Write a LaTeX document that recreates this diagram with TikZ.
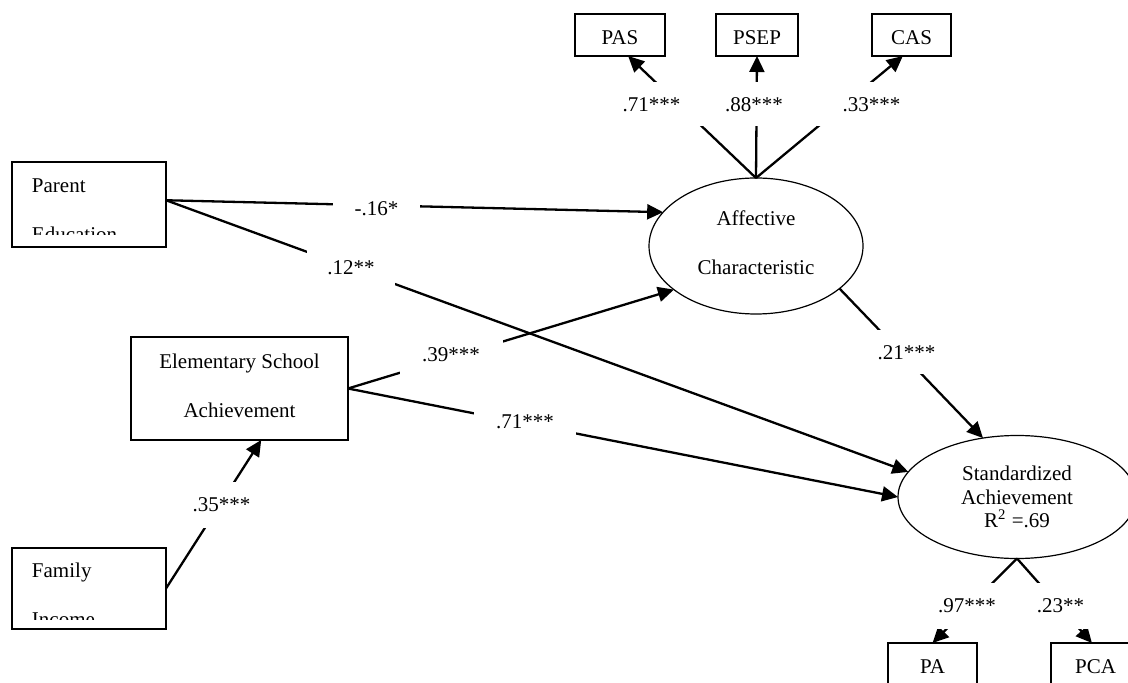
\documentclass[tikz,border=0pt]{standalone}
\usepackage{fontspec}
\setmainfont{Liberation Serif}
\usetikzlibrary{arrows.meta,shapes.geometric,calc}
\begin{document}
\begin{tikzpicture}[x=0.5pt,y=-0.5pt,
  every node/.style={font=\fontsize{10.5}{12}\selectfont, inner sep=0pt, outer sep=0pt},
  obs/.style={draw, line width=0.7pt, text height=9.7pt, text depth=0pt},
  rect/.style={draw, line width=0.7pt},
  lat/.style={draw, ellipse, line width=0.6pt, align=center},
  arr/.style={line width=1.15pt, -{Triangle[length=8pt,width=7.5pt]}},
  coef/.style={fill=white}]
\useasboundingbox (0,0) rectangle (1128,683);
\clip (0,0) rectangle (1128,683);

% indicator boxes (top)
\node[obs, minimum width=45pt, minimum height=21pt] (pas) at (620,35) {PAS};
\node[obs, minimum width=41pt, minimum height=21pt] (psep) at (757,35) {PSEP};
\node[obs, minimum width=39.5pt, minimum height=21pt] (cas) at (911.5,35) {CAS};

% Parent Education
\node[rect, minimum width=77pt, minimum height=42.5pt] (pe) at (89,204.5) {};
\node[anchor=base west] (pet) at (32,193) {Parent};
\begin{scope}
  \clip (12,162) rectangle (166,235);
  \node[anchor=base west] (pet2) at (32,242) {Education};
\end{scope}

% Elementary School Achievement
\node[rect, align=center, minimum width=108.5pt, minimum height=51.5pt] (esa) at (239.5,388.5)
  {Elementary School\\[12.5pt]Achievement\rule[-3pt]{0pt}{0pt}};

% Family Income
\node[rect, minimum width=77pt, minimum height=40.5pt] (fi) at (89,588.5) {};
\node[anchor=base west] (fit) at (32,577) {Family};
\begin{scope}
  \clip (12,548) rectangle (166,619);
  \node[anchor=base west] (fit2) at (32,626) {Income};
\end{scope}

% latent variables
\node[lat, minimum width=107pt, minimum height=68pt] (aff) at (756,246)
  {Affective\\[12.5pt]Characteristic\rule[-3.5pt]{0pt}{0pt}};
\node[lat, minimum width=119pt, minimum height=61.5pt, font=\fontsize{10.5}{11.75}\selectfont] (std) at (1017,497)
  {Standardized\\Achievement\\R\textsuperscript{2} =.69};

% indicator boxes (bottom)
\node[obs, minimum width=44.5pt, minimum height=21pt] (pa) at (932.5,664) {PA};
\node[obs, minimum width=44.5pt, minimum height=21pt] (pca) at (1095.5,664) {PCA};

% connector end points
\coordinate (peo) at ($(pe.north east)!0.45!(pe.south east)$);
\coordinate (esain) at ($(esa.south west)!0.6!(esa.south east)$);
\coordinate (pasin) at ($(pas.south west)!0.59!(pas.south east)$);
\coordinate (casin) at ($(cas.south west)!0.39!(cas.south east)$);
\coordinate (pcain) at ($(pca.north west)!0.46!(pca.north east)$);

% connectors
\draw[arr] (peo) -- (aff.160);
\draw[arr] (peo) -- (std.167);
\draw[arr] (esa.east) -- (aff.208);
\draw[arr] (esa.east) -- (std.west);
\draw[arr] (aff.333) -- (std.120);
\draw[arr] (fi.east) -- (esain);
\draw[arr] (aff.north) -- (pasin);
\draw[arr] (aff.north) -- (psep.south);
\draw[arr] (aff.north) -- (casin);
\draw[arr] (std.south) -- (pa.north);
\draw[arr] (std.south) -- (pcain);

% coefficients
\node[coef, minimum width=43.5pt, minimum height=11pt] (c1) at (376.5,208.5) {-.16*};
\node[coef, minimum width=44pt, minimum height=20pt] (c2) at (351,268) {.12**};
\node[coef, minimum width=51.5pt, minimum height=20pt] (c3) at (451,355) {.39***};
\node[coef, minimum width=51pt, minimum height=17pt] (c4) at (525,422) {.71***};
\node[coef, minimum width=31.5pt, minimum height=22pt] (c5) at (906.5,352.5) {.21***};
\node[coef, minimum width=31.5pt, minimum height=23pt] (c6) at (221.5,505) {.35***};
\node[coef, minimum width=55pt, minimum height=22pt] (c7) at (651.5,104.5) {.71***};
\node[coef, minimum width=32pt, minimum height=22pt] (c8) at (754,104.5) {.88***};
\node[coef, minimum width=55pt, minimum height=22pt] (c9) at (871.5,104.5) {.33***};
\node[coef, minimum width=31pt, minimum height=23pt] (c10) at (967,605.5) {.97***};
\node[coef, minimum width=27pt, minimum height=23pt] (c11) at (1060.5,605.5) {.23**};
\end{tikzpicture}
\end{document}
